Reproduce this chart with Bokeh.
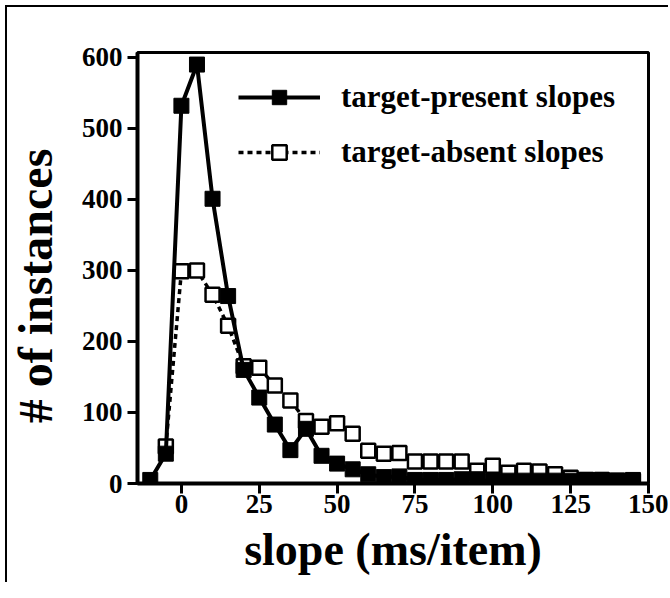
from bokeh.plotting import figure
from bokeh.models import FixedTicker, Legend, LegendItem, ColumnDataSource
from bokeh.embed import file_html
from bokeh.resources import INLINE

# slope bins (ms/item)
slope_present = [-10, -5, 0, 5, 10, 15, 20, 25, 30, 35, 40, 45, 50, 55, 60, 65,
                 70, 75, 80, 85, 90, 95, 100, 105, 110, 115, 120, 125, 130, 135, 140, 145]
count_present = [5, 42, 532, 590, 401, 264, 160, 121, 83, 47, 77, 39, 28, 20, 13, 9,
                 10, 5, 5, 5, 6, 6, 3, 4, 4, 4, 4, 4, 5, 5, 4, 5]

slope_absent = [-5, 0, 5, 10, 15, 20, 25, 30, 35, 40, 45, 50, 55, 60, 65,
                70, 75, 80, 85, 90, 95, 100, 105, 110, 115, 120, 125, 130, 135, 140, 145]
count_absent = [52, 299, 300, 266, 222, 165, 163, 138, 117, 88, 80, 85, 70, 46, 42,
                43, 31, 31, 31, 31, 18, 25, 15, 18, 17, 13, 8, 5, 5, 4, 4]

x_ticks = [0, 25, 50, 75, 100, 125, 150]
y_ticks = [0, 100, 200, 300, 400, 500, 600]

FONT = "Liberation Serif"

p = figure(width=668, height=582, output_backend="svg", toolbar_location=None,
           x_range=(-14.1, 150), y_range=(0, 607),
           min_border_left=137, min_border_right=20, min_border_top=52,
           min_border_bottom=99)
p.border_fill_color = None
p.styles = {
    "background": ("linear-gradient(#000, #000) 5px 5px / 100% 2px no-repeat, "
                   "linear-gradient(#000, #000) 5px 5px / 2px 100% no-repeat, #fff"),
}

p.xgrid.visible = False
p.ygrid.visible = False
p.outline_line_color = "black"
p.outline_line_width = 3
p.outline_line_alpha = 1.0

for ax in (p.xaxis[0], p.yaxis[0]):
    ax.axis_line_width = 4
    ax.major_tick_line_width = 3
    ax.major_tick_out = 10
    ax.major_tick_in = 0
    ax.minor_tick_line_color = None
    ax.major_label_text_font = FONT
    ax.major_label_text_font_style = "bold"
    ax.major_label_text_font_size = "27px"
    ax.major_label_text_color = "black"
    ax.axis_label_text_font = FONT
    ax.axis_label_text_font_style = "bold"
    ax.axis_label_text_color = "black"

p.xaxis.axis_label_text_font_size = "46px"
p.yaxis.axis_label_text_font_size = "48px"
p.xaxis.ticker = FixedTicker(ticks=x_ticks)
p.yaxis.ticker = FixedTicker(ticks=y_ticks)
p.xaxis.axis_label = "slope (ms/item)"
# trailing no-break spaces push the visible title slightly downward
p.yaxis.axis_label = "# of instances\u00a0\u00a0\u00a0"
p.xaxis.major_label_standoff = 1
p.yaxis.major_label_standoff = 5
p.xaxis.axis_label_standoff = 8
p.yaxis.axis_label_standoff = 17

src_a = ColumnDataSource(dict(x=slope_absent, y=count_absent))
src_p = ColumnDataSource(dict(x=slope_present, y=count_present))

la = p.line("x", "y", source=src_a, line_color="black", line_width=3.5, line_dash="5 4")
sa = p.scatter("x", "y", source=src_a, marker="square", size=14,
               fill_color="white", line_color="black", line_width=2.5)
lp = p.line("x", "y", source=src_p, line_color="black", line_width=4)
sp = p.scatter("x", "y", source=src_p, marker="square", size=15,
               fill_color="black", line_color="black", line_width=1)

legend = Legend(items=[
    LegendItem(label="target-present slopes", renderers=[lp, sp]),
    LegendItem(label="target-absent slopes", renderers=[la, sa]),
], location=(101, 313))
legend.glyph_width = 82
legend.glyph_height = 36
legend.label_height = 36
legend.spacing = 19
legend.padding = 0
legend.margin = 0
legend.label_standoff = 21
legend.border_line_alpha = 0
legend.background_fill_alpha = 0
legend.label_text_font = FONT
legend.label_text_font_style = "bold"
legend.label_text_font_size = "31px"
legend.label_text_color = "black"
p.add_layout(legend)

open("out.html", "w").write(file_html(p, INLINE))
